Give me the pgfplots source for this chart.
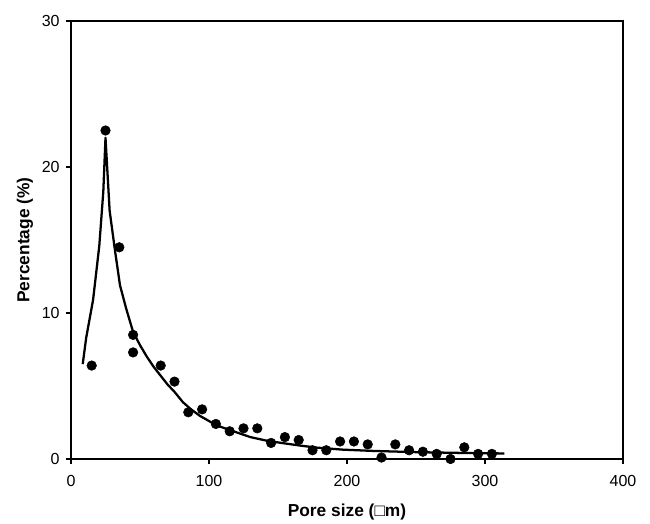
\documentclass[border=0pt]{standalone}
\usepackage{fontspec}
\setmainfont{Liberation Sans}
\usepackage{pgfplots}
\pgfplotsset{compat=1.18}

\begin{document}
\begin{tikzpicture}
\begin{axis}[
    scale only axis,
    width=414pt,
    height=328.5pt,
    xmin=0, xmax=400,
    ymin=0, ymax=30,
    xtick={0,100,200,300,400},
    ytick={0,10,20,30},
    tick align=outside,
    major tick length=4pt,
    xtick pos=bottom,
    ytick pos=left,
    axis line style={line width=1pt},
    every tick/.style={black, line width=1pt},
    tick label style={font=\fontsize{12}{14}\selectfont},
    xticklabel style={yshift=-5pt},
    yticklabel style={xshift=-1pt},
    /pgf/number format/assume math mode=true,
    xlabel={\bfseries Pore size (□m)},
    ylabel={\bfseries Percentage (\%)},
    label style={font=\fontsize{13}{15}\selectfont},
    xlabel style={at={(axis description cs:0.5,-0.121)}, anchor=center},
    ylabel style={at={(axis description cs:-0.0833,0.5)}, anchor=center},
    clip=false,
]

% fitted curve
\addplot[black, line width=1.7pt, line join=round] coordinates {
    (8.5,6.5) (11,8.3) (16,10.9) (20.5,14.6) (23.4,18.3) (25,22.0)
    (28,17.0) (32,14.2) (35.5,11.9) (40,10.3) (45,8.7) (50,7.8)
    (55,7.0) (60,6.3) (65,5.7) (70,5.1) (75,4.6) (81,3.9) (87,3.4)
    (93.5,2.95) (100,2.6) (105.6,2.3) (117.6,1.9)
    (130,1.5) (142,1.25) (154,1.08) (166,0.92) (178,0.78) (197,0.64)
    (220,0.55) (250,0.47) (280,0.42) (314,0.38)
};

% measured points
\addplot[only marks, mark=*, mark size=3.6pt, black] coordinates {
    (15,6.4) (25,22.5) (35,14.5) (45,8.5) (45,7.3) (65,6.4)
    (75,5.3) (85,3.2) (95,3.4) (105,2.4) (115,1.9) (125,2.1)
    (135,2.1) (145,1.1) (155,1.5) (165,1.3) (175,0.6) (185,0.6)
    (195,1.2) (205,1.2) (215,1.0) (225,0.1) (235,1.0) (245,0.6)
    (255,0.5) (265,0.35) (275,0.0) (285,0.8) (295,0.35) (305,0.35)
};

\end{axis}
\pgfresetboundingbox
\path (current axis.south west) ++(-53.25pt,-48pt);
\path (current axis.north east) ++(20.25pt,15.75pt);
\end{tikzpicture}
\end{document}
